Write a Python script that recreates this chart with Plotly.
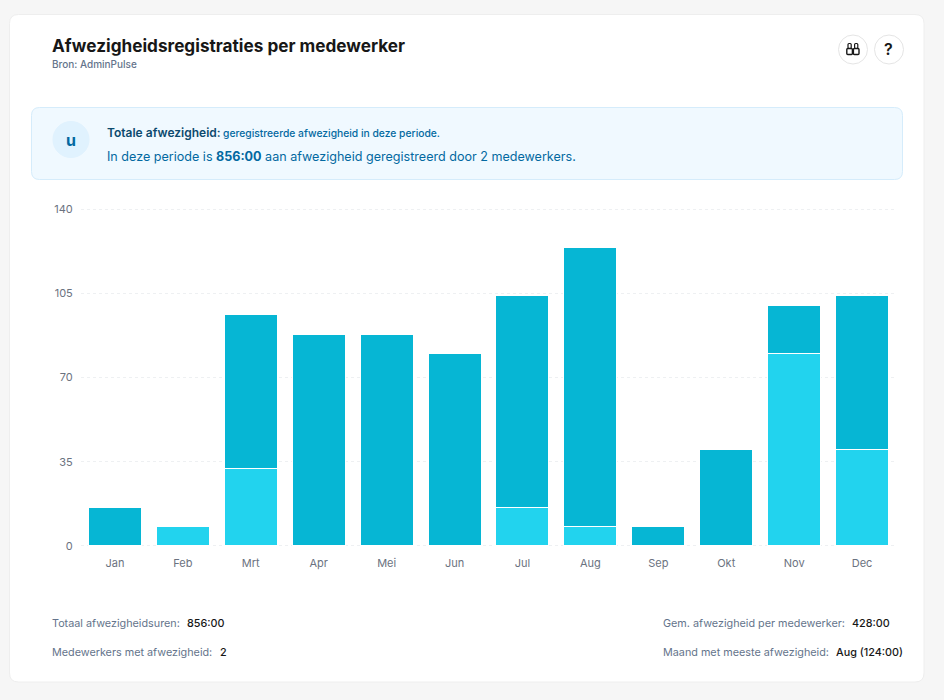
import plotly.graph_objects as go

# hours per month, two employees
months = ['Jan', 'Feb', 'Mrt', 'Apr', 'Mei', 'Jun', 'Jul', 'Aug', 'Sep', 'Okt', 'Nov', 'Dec']
employee_a = [0, 8, 32, 0, 0, 0, 16, 8, 0, 0, 80, 40]
employee_b = [16, 0, 64, 88, 88, 80, 88, 116, 8, 40, 20, 64]
y_ticks = [0, 35, 70, 105, 140]

W, H = 944, 700
CARD = '#ffffff'


def px(x):
    return x / W


def py(y):
    return 1 - y / H


def rounded(x0, y0, x1, y1, r):
    # rounded rectangle as svg path, in paper coords
    a, b, c, d = px(x0), py(y0), px(x1), py(y1)
    rx, ry = r / W, r / H
    return (f'M {a + rx} {b} L {c - rx} {b} Q {c} {b} {c} {b - ry} L {c} {d + ry} Q {c} {d} {c - rx} {d} '
            f'L {a + rx} {d} Q {a} {d} {a} {d + ry} L {a} {b - ry} Q {a} {b} {a + rx} {b} Z')


def box(x0, y0, x1, y1, r, fill, line, width=1, layer='below'):
    return dict(type='path', xref='paper', yref='paper', path=rounded(x0, y0, x1, y1, r),
                fillcolor=fill, line=dict(color=line, width=width), layer=layer)


def circle(cx, cy, r, fill, line):
    return dict(type='circle', xref='paper', yref='paper', x0=px(cx - r), x1=px(cx + r),
                y0=py(cy + r), y1=py(cy - r), fillcolor=fill, line=dict(color=line, width=1), layer='below')


def label(x, y, text, size, color, weight=400, anchor='left'):
    # annotations carry about 2px of padding on the left
    shift = -2.5 if anchor == 'left' else 0
    return dict(x=px(x + shift), y=py(y), xref='paper', yref='paper', text=text, showarrow=False,
                xanchor=anchor, yanchor='middle', align=anchor,
                font=dict(family='Inter', size=size, color=color, weight=weight))


fig = go.Figure()
fig.add_trace(go.Bar(x=months, y=employee_a, name='Medewerker 1', marker=dict(color='#22d3ee', line=dict(color='#ffffff', width=1))))
fig.add_trace(go.Bar(x=months, y=employee_b, name='Medewerker 2', marker=dict(color='#06b6d4', line=dict(color='#ffffff', width=1))))

shapes = [
    box(9.5, 14.5, 924, 682, 9, CARD, '#eeeeee'),
    box(31.5, 107.5, 902.5, 179.5, 8, '#f0f9ff', '#d5ecfb'),
    circle(71, 139.5, 18, '#e0f2fe', '#e0f2fe'),
    circle(853, 49.5, 14.5, '#ffffff', '#e5e5e5'),
    circle(889, 49.5, 14.5, '#ffffff', '#e5e5e5'),
]
# binoculars icon
for cx in (849.6, 856.2):
    shapes.append(box(cx - 2.8, 48.5, cx + 2.8, 54.5, 1, 'rgba(0,0,0,0)', '#171717', 1.4, 'above'))
    shapes.append(box(cx - 1.6, 43.5, cx + 1.6, 48.5, 1, 'rgba(0,0,0,0)', '#171717', 1.2, 'above'))

annotations = [
    label(52.5, 45.5, 'Afwezigheidsregistraties per medewerker', 17.2, '#171717', 700),
    label(52.5, 63.5, 'Bron: AdminPulse', 10, '#64748b', 500),
    label(71, 139.5, 'u', 16, '#0369a1', 700, 'center'),
    label(107, 132, 'Totale afwezigheid:', 12, '#0c4a6e', 600),
    label(223, 133, 'geregistreerde afwezigheid in deze periode.', 10.3, '#0369a1', 500),
    label(107, 156, 'In deze periode is <b>856:00</b> aan afwezigheid geregistreerd door 2 medewerkers.', 12.57, '#0369a1'),
    label(888.5, 49, '?', 16, '#171717', 600, 'center'),
    label(52.5, 623.5, 'Totaal afwezigheidsuren:', 10.8, '#64748b'),
    label(187.5, 623.5, '856:00', 10.8, '#171717', 500),
    label(52.5, 652.5, 'Medewerkers met afwezigheid:', 10.8, '#64748b'),
    label(220, 652.5, '2', 10.8, '#171717', 500),
    label(663, 623.5, 'Gem. afwezigheid per medewerker:', 10.8, '#64748b'),
    label(852.5, 623.5, '428:00', 10.8, '#171717', 500),
    label(663, 652.5, 'Maand met meeste afwezigheid:', 10.8, '#64748b'),
    label(836.5, 652.5, 'Aug (124:00)', 10.8, '#171717', 500),
]

fig.update_layout(
    width=W, height=H,
    barmode='stack', bargap=0.22,
    showlegend=False,
    margin=dict(l=0, r=0, t=0, b=0),
    paper_bgcolor='#f6f6f6', plot_bgcolor='rgba(0,0,0,0)',
    font=dict(family='Inter', size=11, color='#6b7280'),
    shapes=shapes, annotations=annotations,
    xaxis=dict(domain=[px(81), px(896)], showgrid=False, showline=False, zeroline=False,
               ticks='outside', ticklen=5, tickcolor='rgba(0,0,0,0)',
               tickfont=dict(size=11, color='#6b7280'), automargin=False),
    # range wider than the ticks, otherwise the 0 and 140 gridlines get dropped
    yaxis=dict(domain=[py(547.5), py(207.5)], range=[-0.7, 140.7], tickvals=y_ticks,
               gridcolor='#eef0f2', griddash='3px,3px', gridwidth=1, zeroline=False, showline=False,
               ticks='outside', ticklen=5, tickcolor='rgba(0,0,0,0)',
               tickfont=dict(size=11, color='#6b7280'), automargin=False),
)

fig.write_html("out.html", config=dict(displayModeBar=False),
               post_script="document.body.style.margin='0';")
